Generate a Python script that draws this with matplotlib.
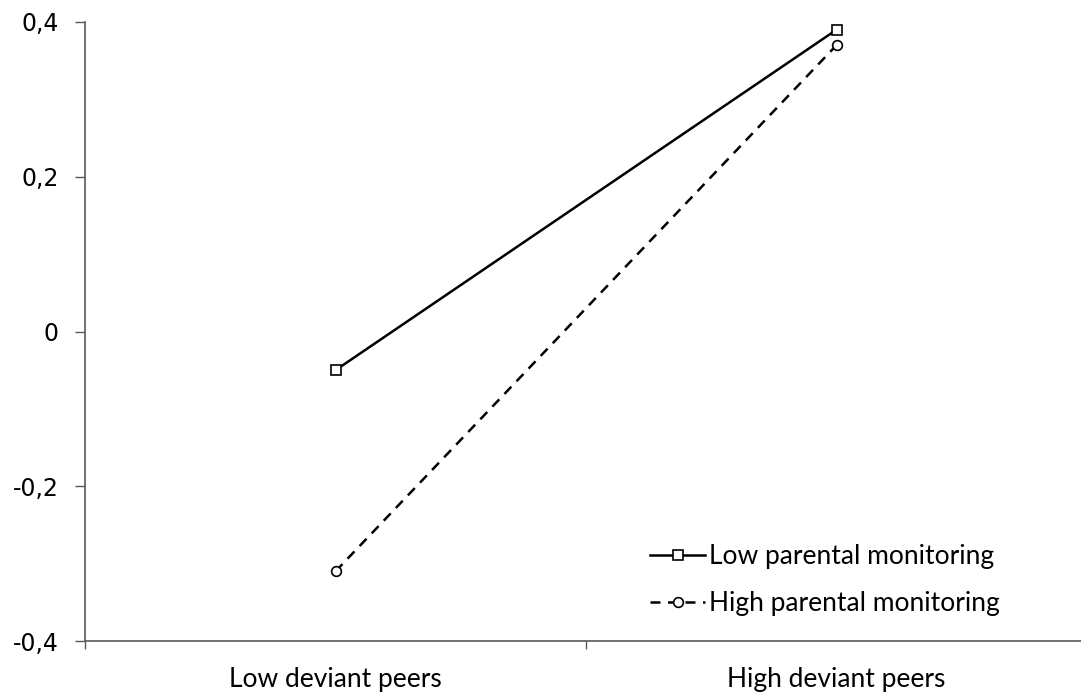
import matplotlib

matplotlib.use("Agg")
import matplotlib.pyplot as plt
from matplotlib.ticker import FixedLocator, FuncFormatter

# data
categories = ["Low deviant peers", "High deviant peers"]
low_monitoring = [-0.05, 0.39]
high_monitoring = [-0.31, 0.37]
series_labels = ["Low parental monitoring", "High parental monitoring"]
y_ticks = [-0.4, -0.2, 0.0, 0.2, 0.4]

plt.rcParams["font.family"] = ["Lato", "DejaVu Sans"]


def _comma(v, _pos=None):
    if abs(v) < 1e-9:
        return "0"
    return f"{v:.1f}".replace(".", ",")


fig = plt.figure(figsize=(10.81, 6.97), dpi=100)
ax = fig.add_axes([85 / 1081, 1 - 641 / 697, 1002 / 1081, (641 - 22) / 697])

x = list(range(len(categories)))
ax.plot(x, low_monitoring, color="black", lw=1.8, marker="s", ms=7,
        mfc="white", mec="black", mew=1.2, label=series_labels[0])
ax.plot(x, high_monitoring, color="black", lw=1.8, ls=(0, (4, 3)), marker="o", ms=7,
        mfc="white", mec="black", mew=1.2, label=series_labels[1])

ax.set_xlim(-0.5, 1.5)
ax.set_ylim(-0.4, 0.4)
ax.set_yticks(y_ticks)
ax.yaxis.set_major_formatter(FuncFormatter(_comma))
ax.set_xticks(x)
ax.set_xticklabels(categories, fontsize=19)
ax.xaxis.set_minor_locator(FixedLocator([-0.5, 0.5, 1.5]))
ax.tick_params(axis="x", which="major", length=0, pad=19)
ax.tick_params(axis="x", which="minor", length=6, width=1, color="#595959", direction="out")
ax.tick_params(axis="y", length=7, width=1, color="#595959", direction="out",
               labelsize=17, pad=12)
for lab in ax.get_yticklabels():
    lab.set_fontfamily("DejaVu Sans")

for side in ("top", "right"):
    ax.spines[side].set_visible(False)
for side in ("left", "bottom"):
    ax.spines[side].set_color("#595959")
    ax.spines[side].set_linewidth(1.2)

leg = fig.legend(loc="upper left", bbox_to_anchor=(650 / 1081, 1 - 544 / 697),
                 frameon=False, fontsize=19, handlelength=2.1, handletextpad=0.15,
                 labelspacing=0.85, borderpad=0, borderaxespad=0)

fig.savefig("out.png", dpi=100)
